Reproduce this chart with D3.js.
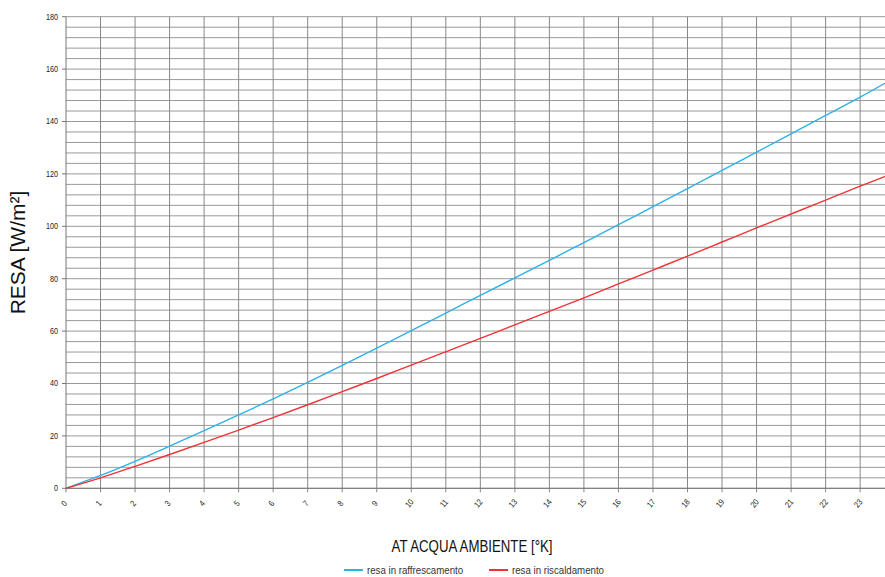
<!DOCTYPE html>
<html>
<head>
<meta charset="utf-8">
<script src="https://cdn.jsdelivr.net/npm/d3@7"></script>
<style>
  body { margin: 0; background: #fff; }
  svg { display: block; font-family: "Liberation Sans", Arial, sans-serif; }
</style>
</head>
<body>
<div id="chart"></div>
<script>
// delta T acqua-ambiente [K]
const deltaT = [0, 1, 2, 3, 4, 5, 6, 7, 8, 9, 10, 11, 12, 13, 14, 15, 16, 17, 18, 19, 20, 21, 22, 23, 23.72];
// resa in raffrescamento [W/m2]
const resaRaff = [0, 4.9, 10.3, 16.1, 22.0, 28.0, 34.1, 40.4, 46.9, 53.5, 60.2, 66.9, 73.6, 80.3, 87.0, 93.8, 100.6, 107.5, 114.4, 121.3, 128.3, 135.3, 142.3, 149.3, 154.6];
// resa in riscaldamento [W/m2]
const resaRisc = [0, 4.0, 8.4, 12.9, 17.5, 22.2, 27.0, 31.9, 36.9, 41.9, 47.0, 52.1, 57.2, 62.4, 67.5, 72.7, 78.0, 83.3, 88.6, 94.0, 99.4, 104.7, 110.0, 115.3, 119.0];

const xTicks = d3.range(0, 24);
const yTicks = d3.range(0, 181, 20);
const yGrid = d3.range(0, 181, 4);

const series = [
  { name: "resa in raffrescamento", values: resaRaff, color: "#2db2e8" },
  { name: "resa in riscaldamento", values: resaRisc, color: "#ee3438" }
];

const width = 885, height = 577;
const svg = d3.select("#chart").append("svg").attr("width", width).attr("height", height);

const x = d3.scaleLinear().domain([0, 23.72]).range([66, 885]);
const y = d3.scaleLinear().domain([0, 180]).range([488.3, 16.7]);

// grid
svg.append("g").selectAll("line")
  .data(yGrid)
  .join("line")
  .attr("x1", x(0)).attr("x2", width)
  .attr("y1", d => y(d)).attr("y2", d => y(d))
  .attr("stroke", "#999").attr("stroke-width", 1);

svg.append("g").selectAll("line")
  .data(xTicks.slice(1))
  .join("line")
  .attr("x1", d => x(d)).attr("x2", d => x(d))
  .attr("y1", y(180)).attr("y2", y(0) + 4)
  .attr("stroke", "#888").attr("stroke-width", 1);

// axes
svg.append("line")
  .attr("x1", x(0)).attr("x2", x(0))
  .attr("y1", y(180)).attr("y2", y(0) + 4)
  .attr("stroke", "#777");
svg.append("line")
  .attr("x1", x(0)).attr("x2", width)
  .attr("y1", y(0)).attr("y2", y(0))
  .attr("stroke", "#777");

svg.append("g").selectAll("line")
  .data(yTicks)
  .join("line")
  .attr("x1", x(0) - 4).attr("x2", x(0))
  .attr("y1", d => y(d)).attr("y2", d => y(d))
  .attr("stroke", "#777");

svg.append("g").selectAll("text")
  .data(yTicks)
  .join("text")
  .attr("transform", d => `translate(${x(0) - 8},${y(d)}) scale(0.85,1)`)
  .attr("dy", "0.35em")
  .attr("text-anchor", "end")
  .attr("font-size", 8.5)
  .attr("fill", "#222")
  .text(d => d);

svg.append("g").selectAll("text")
  .data(xTicks)
  .join("text")
  .attr("transform", d => `translate(${x(d) - 2},${y(0) + 15}) rotate(-50) scale(0.85,1)`)
  .attr("text-anchor", "middle")
  .attr("dy", "0.35em")
  .attr("font-size", 8.5)
  .attr("fill", "#222")
  .text(d => d);

// titles
svg.append("text")
  .attr("transform", `translate(25,${(y(0) + y(180)) / 2}) rotate(-90)`)
  .attr("text-anchor", "middle")
  .attr("font-size", 21)
  .attr("fill", "#111")
  .text("RESA [W/m²]");

svg.append("text")
  .attr("transform", "translate(472,552) scale(0.78,1)")
  .attr("text-anchor", "middle")
  .attr("font-size", 17)
  .attr("fill", "#111")
  .text("AT ACQUA AMBIENTE [°K]");

// lines
const line = d3.line()
  .x((d, i) => x(deltaT[i]))
  .y(d => y(d))
  .curve(d3.curveMonotoneX);

svg.append("g").selectAll("path")
  .data(series)
  .join("path")
  .attr("d", d => line(d.values))
  .attr("fill", "none")
  .attr("stroke", d => d.color)
  .attr("stroke-width", 1.4);

// legend
const legendX = [344, 489];
const legend = svg.append("g").selectAll("g")
  .data(series)
  .join("g")
  .attr("transform", (d, i) => `translate(${legendX[i]},570)`);
legend.append("line")
  .attr("x1", 0).attr("x2", 19)
  .attr("stroke", d => d.color).attr("stroke-width", 2);
legend.append("text")
  .attr("transform", "translate(23,0) scale(0.88,1)")
  .attr("dy", "0.35em")
  .attr("font-size", 11)
  .attr("fill", "#333")
  .text(d => d.name);
</script>
</body>
</html>
